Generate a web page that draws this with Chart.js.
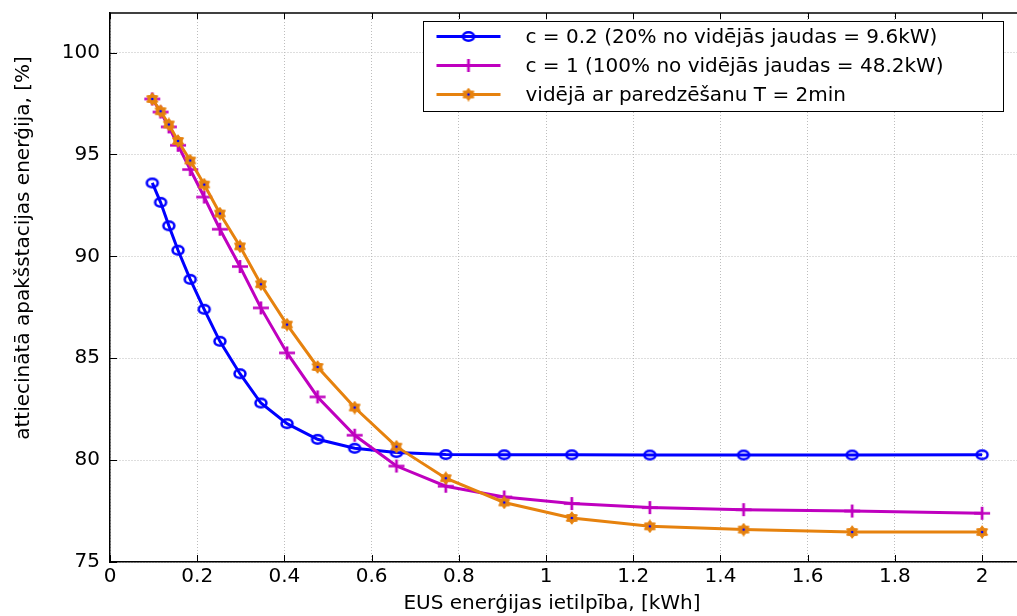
<!DOCTYPE html>
<html>
<head>
<meta charset="utf-8">
<script src="https://cdn.jsdelivr.net/npm/chart.js@4.4.1/dist/chart.umd.min.js"></script>
<style>
  html, body { margin: 0; padding: 0; background: #fff; overflow: hidden; }
  canvas { display: block; }
</style>
</head>
<body>
<canvas id="chart" width="1017" height="616"></canvas>
<script>
// EUS energy capacity, kWh
const capacity = [0.097, 0.116, 0.135, 0.156, 0.184, 0.216, 0.252, 0.298, 0.346, 0.406,
                  0.476, 0.561, 0.657, 0.770, 0.904, 1.059, 1.238, 1.453, 1.702, 2.0];
// relative substation energy, %
const lowPower = [93.6, 92.65, 91.5, 90.3, 88.87, 87.4, 85.83, 84.24, 82.8, 81.79,
                  81.02, 80.58, 80.37, 80.27, 80.26, 80.26, 80.25, 80.25, 80.25, 80.26];
const fullPower = [97.72, 97.08, 96.35, 95.45, 94.26, 92.91, 91.33, 89.5, 87.47, 85.26,
                   83.1, 81.22, 79.71, 78.72, 78.19, 77.87, 77.67, 77.57, 77.5, 77.39];
const forecast = [97.72, 97.12, 96.47, 95.66, 94.7, 93.52, 92.1, 90.49, 88.63, 86.65,
                  84.57, 82.58, 80.66, 79.11, 77.92, 77.16, 76.75, 76.59, 76.47, 76.47];

const seriesLabels = [
  'c = 0.2 (20% no vidējās jaudas = 9.6kW)',
  'c = 1 (100% no vidējās jaudas = 48.2kW)',
  'vidējā ar paredzēšanu T = 2min'
];
const xTitle = 'EUS enerģijas ietilpība, [kWh]';
const yTitle = 'attiecinātā apakšstacijas enerģija, [%]';

const FONT = '"DejaVu Sans", sans-serif';

function markerCanvas(w, h, draw) {
  const c = document.createElement('canvas');
  c.width = w;
  c.height = h;
  draw(c.getContext('2d'), w / 2, h / 2);
  return c;
}

const ringMark = markerCanvas(16, 13, (g, cx, cy) => {
  g.strokeStyle = '#0000ff';
  g.lineWidth = 2.5;
  g.beginPath();
  g.ellipse(cx, cy, 5.5, 4.2, 0, 0, Math.PI * 2);
  g.stroke();
});

const plusMark = markerCanvas(18, 15, (g, cx, cy) => {
  g.strokeStyle = '#bf00bf';
  g.lineWidth = 2.7;
  g.beginPath();
  g.moveTo(1, cy); g.lineTo(17, cy);
  g.moveTo(cx, 1); g.lineTo(cx, 14);
  g.stroke();
});

const starMark = markerCanvas(14, 14, (g, cx, cy) => {
  g.fillStyle = '#e6820e';
  g.strokeStyle = '#e6820e';
  g.lineWidth = 1;
  g.beginPath();
  for (let k = 0; k < 12; k++) {
    const r = k % 2 === 0 ? 6.3 : 4;
    const a = -Math.PI / 2 + k * Math.PI / 6;
    const px = cx + r * Math.cos(a), py = cy + r * Math.sin(a);
    if (k === 0) g.moveTo(px, py); else g.lineTo(px, py);
  }
  g.closePath();
  g.fill();
  g.stroke();
  g.fillStyle = '#0000ff';
  g.beginPath();
  g.arc(cx, cy, 1.3, 0, Math.PI * 2);
  g.fill();
});

const toPoints = ys => capacity.map((x, i) => ({ x, y: ys[i] }));

// axes box top line and inward tick marks
const frame = {
  id: 'frame',
  beforeDatasetsDraw(chart) {
    const { ctx, chartArea: a, scales: { x, y } } = chart;
    ctx.save();
    ctx.strokeStyle = '#000';
    ctx.lineWidth = 1.5;
    ctx.beginPath();
    ctx.moveTo(a.left, a.top);
    ctx.lineTo(a.right, a.top);
    ctx.stroke();
    ctx.lineWidth = 1;
    ctx.beginPath();
    x.ticks.forEach(t => {
      const px = Math.round(x.getPixelForValue(t.value)) + 0.5;
      ctx.moveTo(px, a.bottom); ctx.lineTo(px, a.bottom - 7);
      ctx.moveTo(px, a.top); ctx.lineTo(px, a.top + 6);
    });
    y.ticks.forEach(t => {
      const py = Math.round(y.getPixelForValue(t.value)) + 0.5;
      ctx.moveTo(a.left, py); ctx.lineTo(a.left + 7, py);
    });
    ctx.stroke();
    ctx.restore();
  }
};

// axis titles (placed like the original figure, a bit off the plot centre)
const axisTitles = {
  id: 'axisTitles',
  afterDraw(chart) {
    const ctx = chart.ctx;
    ctx.save();
    ctx.fillStyle = '#000';
    ctx.font = '20px ' + FONT;
    ctx.textAlign = 'center';
    ctx.textBaseline = 'middle';
    ctx.fillText(xTitle, 552, 604);
    ctx.translate(24, 248);
    ctx.rotate(-Math.PI / 2);
    ctx.fillText(yTitle, 0, 0);
    ctx.restore();
  }
};

const boxLegend = {
  id: 'boxLegend',
  afterDraw(chart) {
    const ctx = chart.ctx;
    const left = 423.5, top = 21.5, w = 580, h = 90;
    ctx.save();
    ctx.fillStyle = '#fff';
    ctx.fillRect(left, top, w, h);
    ctx.strokeStyle = '#000';
    ctx.lineWidth = 1;
    ctx.strokeRect(left, top, w, h);
    ctx.font = '20px ' + FONT;
    ctx.textBaseline = 'middle';
    chart.data.datasets.forEach((ds, i) => {
      const ry = top + 15 + i * 29;
      ctx.strokeStyle = ds.borderColor;
      ctx.lineWidth = ds.borderWidth;
      ctx.beginPath();
      ctx.moveTo(left + 13, ry);
      ctx.lineTo(left + 77, ry);
      ctx.stroke();
      const img = ds.pointStyle;
      ctx.drawImage(img, left + 45 - img.width / 2, ry - img.height / 2);
      ctx.fillStyle = '#000';
      ctx.fillText(ds.label, left + 102, ry + 1);
    });
    ctx.restore();
  }
};

Chart.defaults.font.family = FONT;
Chart.defaults.font.size = 20;
Chart.defaults.color = '#000';

new Chart(document.getElementById('chart'), {
  type: 'line',
  data: {
    datasets: [
      {
        label: seriesLabels[0],
        data: toPoints(lowPower),
        borderColor: '#0000ff',
        borderWidth: 3,
        pointStyle: ringMark,
        order: 2
      },
      {
        label: seriesLabels[1],
        data: toPoints(fullPower),
        borderColor: '#bf00bf',
        borderWidth: 3,
        pointStyle: plusMark,
        order: 1
      },
      {
        label: seriesLabels[2],
        data: toPoints(forecast),
        borderColor: '#e6820e',
        borderWidth: 3,
        pointStyle: starMark,
        order: 0
      }
    ]
  },
  options: {
    responsive: false,
    animation: false,
    events: [],
    layout: { autoPadding: false, padding: { top: 13, right: 0, bottom: 0, left: 0 } },
    elements: { line: { tension: 0 } },
    plugins: {
      legend: { display: false },
      tooltip: { enabled: false }
    },
    scales: {
      x: {
        type: 'linear',
        min: 0,
        max: 2.08,
        afterFit: s => { s.height = 54; s.paddingLeft = 0; s.paddingRight = 0; },
        ticks: {
          stepSize: 0.2, includeBounds: false, padding: 3, maxRotation: 0,
          callback: v => String(Math.round(v * 10) / 10)
        },
        grid: { color: '#bdbdbd', lineWidth: 1, drawTicks: false },
        border: { display: true, color: '#000', width: 1.5, dash: [1, 2] }
      },
      y: {
        min: 75,
        max: 101.94,
        afterFit: s => { s.width = 110; s.paddingTop = 0; s.paddingBottom = 0; },
        ticks: { stepSize: 5, includeBounds: false, padding: 10 },
        grid: { color: '#bdbdbd', lineWidth: 1, drawTicks: false },
        border: { display: true, color: '#000', width: 1.5, dash: [1, 2] }
      }
    }
  },
  plugins: [frame, axisTitles, boxLegend]
});
</script>
</body>
</html>
